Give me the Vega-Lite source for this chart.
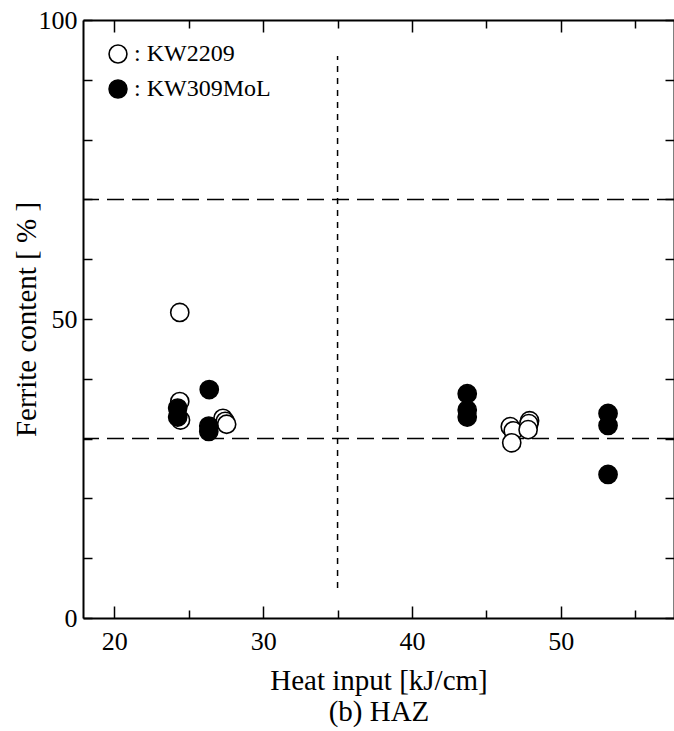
{
  "$schema": "https://vega.github.io/schema/vega-lite/v6.json",
  "width": 591,
  "height": 598,
  "autosize": {"type": "none"},
  "padding": {"left": 83, "top": 20, "right": 0, "bottom": 113},
  "background": "white",
  "config": {
    "view": {"stroke": null},
    "font": "Liberation Serif",
    "axis": {"grid": false, "domainColor": "black", "domainWidth": 2, "tickColor": "black", "tickWidth": 1.5, "labelColor": "black", "titleColor": "black", "labelFont": "Liberation Serif", "titleFont": "Liberation Serif", "titleFontWeight": "normal"}
  },
  "datasets": {
    "pts": [
      {"heat": 24.4, "ferrite": 51.1, "wire": "KW2209"},
      {"heat": 24.4, "ferrite": 36.2, "wire": "KW2209"},
      {"heat": 24.45, "ferrite": 33.1, "wire": "KW2209"},
      {"heat": 27.3, "ferrite": 33.4, "wire": "KW2209"},
      {"heat": 27.45, "ferrite": 32.9, "wire": "KW2209"},
      {"heat": 27.55, "ferrite": 32.4, "wire": "KW2209"},
      {"heat": 46.6, "ferrite": 32.0, "wire": "KW2209"},
      {"heat": 46.8, "ferrite": 31.3, "wire": "KW2209"},
      {"heat": 46.7, "ferrite": 29.3, "wire": "KW2209"},
      {"heat": 47.9, "ferrite": 33.0, "wire": "KW2209"},
      {"heat": 47.85, "ferrite": 32.5, "wire": "KW2209"},
      {"heat": 47.8, "ferrite": 31.5, "wire": "KW2209"},
      {"heat": 24.26, "ferrite": 35.1, "wire": "KW309MoL"},
      {"heat": 24.26, "ferrite": 33.6, "wire": "KW309MoL"},
      {"heat": 26.38, "ferrite": 38.2, "wire": "KW309MoL"},
      {"heat": 26.35, "ferrite": 32.1, "wire": "KW309MoL"},
      {"heat": 26.35, "ferrite": 31.2, "wire": "KW309MoL"},
      {"heat": 43.71, "ferrite": 37.5, "wire": "KW309MoL"},
      {"heat": 43.71, "ferrite": 34.8, "wire": "KW309MoL"},
      {"heat": 43.71, "ferrite": 33.6, "wire": "KW309MoL"},
      {"heat": 53.17, "ferrite": 34.2, "wire": "KW309MoL"},
      {"heat": 53.17, "ferrite": 32.2, "wire": "KW309MoL"},
      {"heat": 53.17, "ferrite": 24.0, "wire": "KW309MoL"}
    ],
    "hlines": [{"y": 70}, {"y": 30}],
    "vline": [{"x": 35, "y1": 5, "y2": 94}]
  },
  "layer": [
    {
      "data": {"name": "hlines"},
      "mark": {"type": "rule", "strokeDash": [17, 8], "strokeWidth": 1.5, "color": "black"},
      "encoding": {
        "y": {"field": "y", "type": "quantitative", "scale": {"domain": [0, 100], "nice": false},
          "axis": {"orient": "right", "values": [0,10,20,30,40,50,60,70,80,90,100], "labels": false, "tickSize": -9, "domain": true, "title": null}}
      }
    },
    {
      "data": {"name": "vline"},
      "mark": {"type": "rule", "strokeDash": [6, 6], "strokeWidth": 1.5, "color": "black"},
      "encoding": {
        "x": {"field": "x", "type": "quantitative", "scale": {"domain": [17.9, 57.6], "nice": false, "zero": false},
          "axis": {"orient": "top", "values": [20,25,30,35,40,45,50,55], "labels": false, "title": null,
            "tickSize": {"condition": {"test": "datum.value % 10 === 0", "value": -12}, "value": -8}}},
        "y": {"field": "y1", "type": "quantitative", "axis": null},
        "y2": {"field": "y2"}
      }
    },
    {
      "data": {"name": "pts"},
      "mark": {"type": "circle", "size": 330, "stroke": "black", "strokeWidth": 1.6, "opacity": 1},
      "encoding": {
        "x": {"field": "heat", "type": "quantitative", "scale": {"domain": [17.9, 57.6], "nice": false, "zero": false},
          "axis": {"orient": "bottom", "values": [20,25,30,35,40,45,50,55], "labelExpr": "datum.value % 10 === 0 ? datum.label : ''",
            "tickSize": {"condition": {"test": "datum.value % 10 === 0", "value": -12}, "value": -8},
            "labelFontSize": 26, "labelPadding": 22, "title": ["Heat input [kJ/cm]", "(b) HAZ"], "titleFontSize": 29, "titleLineHeight": 31, "titlePadding": 12}},
        "y": {"field": "ferrite", "type": "quantitative", "scale": {"domain": [0, 100], "nice": false},
          "axis": {"orient": "left", "values": [0,10,20,30,40,50,60,70,80,90,100], "labelExpr": "datum.value % 50 === 0 ? datum.label : ''",
            "tickSize": -9, "labelFontSize": 26, "labelPadding": 15, "title": "Ferrite content [ % ]", "titleFontSize": 29, "titlePadding": -3}},
        "fill": {"field": "wire", "type": "nominal", "scale": {"domain": ["KW2209", "KW309MoL"], "range": ["white", "black"]},
          "legend": {"orient": "none", "legendX": 23, "legendY": 22, "title": null, "padding": 0, "symbolType": "circle", "symbolSize": 320,
            "symbolStrokeColor": "black", "symbolStrokeWidth": 1.6, "labelFontSize": 24, "labelFont": "Liberation Serif", "labelColor": "black",
            "labelExpr": "': ' + datum.label", "rowPadding": 9, "labelOffset": 4}}
      }
    }
  ],
  "resolve": {"axis": {"x": "independent", "y": "independent"}}
}
